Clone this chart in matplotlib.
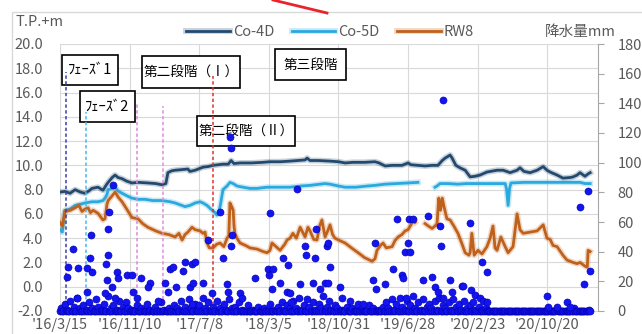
import numpy as np
import pandas as pd
import matplotlib
matplotlib.use("Agg")
import matplotlib.pyplot as plt
import matplotlib.patheffects as pe
from matplotlib.patches import Rectangle
from matplotlib.lines import Line2D

plt.rcParams["font.family"] = ["Noto Sans CJK JP", "DejaVu Sans"]

start = pd.Timestamp("2016-03-15")

# groundwater levels (T.P.+m), x = days since 2016-03-15
co4d_day = [0, 17, 35, 52, 70, 86, 100, 110, 131, 148, 160, 166, 180, 190, 200, 214, 230, 248, 270,
            303, 330, 352, 365, 372, 385, 397, 420, 441, 448, 466, 493, 510, 528, 545, 562, 580, 590,
            600, 621, 660, 700, 724, 760, 793, 820, 845, 852, 862, 890, 931, 960, 983, 1010, 1050,
            1086, 1100, 1121, 1145, 1179, 1200, 1210, 1259, 1283, 1303, 1318, 1328, 1345, 1352, 1365,
            1379, 1397, 1414, 1431, 1448, 1472, 1507, 1528, 1552, 1576, 1586, 1600, 1621, 1645, 1666,
            1679, 1690, 1714, 1734, 1759, 1769, 1783, 1793, 1810, 1821, 1828]
co4d_val = [7.8, 7.85, 7.7, 8.0, 7.8, 7.7, 7.9, 8.1, 8.2, 7.95, 8.4, 8.6, 9.0, 9.2, 9.0, 8.9, 8.7, 8.55, 8.6,
            8.55, 8.5, 8.4, 8.5, 9.4, 9.55, 9.6, 9.65, 9.7, 9.5, 9.6, 9.85, 9.9, 10.0, 10.05, 10.1, 10.1, 10.4,
            10.15, 10.2, 10.2, 10.25, 10.3, 10.3, 10.35, 10.4, 10.45, 10.6, 10.4, 10.4, 10.35, 10.3, 10.2, 10.25, 10.25,
            10.3, 10.2, 9.95, 10.0, 10.0, 10.2, 10.05, 9.95, 10.0, 10.0, 10.4, 10.6, 10.85, 10.6, 10.0,
            9.8, 9.6, 9.05, 9.1, 9.2, 9.45, 9.6, 9.6, 9.4, 9.6, 9.8, 9.5, 9.4, 9.6, 9.9,
            9.6, 9.45, 9.2, 8.95, 9.0, 9.05, 9.2, 9.4, 9.1, 9.3, 9.4]

co5d_day = [0, 8, 17, 35, 52, 70, 86, 110, 131, 148, 155, 162, 166, 180, 190, 200, 214, 230, 248, 270,
            293, 320, 352, 380, 397, 420, 431, 448, 466, 483, 493, 507, 520, 535, 541, 548, 552, 562,
            576, 586, 597, 610, 631, 655, 679, 714, 760, 793, 830, 862, 914, 931, 960, 983, 1020,
            1060, 1086, 1120, 1160, 1200, 1234, 1260, 1293, 1300, 1310, 1340, 1372, 1400, 1450, 1500,
            1535, 1540, 1545, 1550, 1555, 1600, 1700, 1760, 1793, 1810, 1828]
co5d_val = [4.7, 4.5, 6.3, 6.4, 6.7, 6.8, 6.9, 7.0, 7.0, 7.1, 7.3, 7.6, 8.0, 8.1, 8.2, 7.9, 7.7, 7.5, 7.3, 7.2,
            7.2, 7.1, 7.1, 7.0, 6.9, 6.7, 6.6, 6.7, 6.9, 7.0, 6.9, 6.7, 6.4, 6.1, 5.9, 6.2, 6.6, 8.0,
            8.3, 8.6, 8.5, 8.3, 8.2, 8.1, 8.1, 8.2, 8.2, 8.2, 8.3, 8.35, 8.5, 8.45, 8.3, 8.2, 8.2,
            8.3, 8.35, 8.45, 8.5, 8.55, 8.6, np.nan, 8.2, 8.3, 8.5, 8.5, 8.45, 8.5, 8.5, 8.5,
            8.5, 8.0, 6.7, 8.1, 8.55, 8.6, 8.6, 8.6, 8.6, 8.5, 8.5]

rw8_day = [0, 8, 17, 35, 52, 65, 76, 86, 97, 105, 114, 131, 148, 155, 162, 166, 180, 190, 200, 214,
           230, 248, 269, 285, 303, 330, 352, 375, 397, 410, 421, 431, 441, 455, 466, 483, 493, 500,
           507, 515, 528, 540, 552, 565, 576, 582, 586, 592, 597, 600, 603, 610, 621, 640, 655, 680,
           700, 714, 724, 731, 745, 759, 775, 783, 793, 803, 815, 828, 845, 855, 862, 875, 886, 895,
           903, 914, 923, 931, 940, 948, 965, 983, 1005, 1028, 1050, 1076, 1086, 1093, 1105, 1114,
           1125, 1145, 1155, 1166, 1179, 1190, 1200, 1210, 1217, 1224, 1240, 1259, 1270, 1283, 1293,
           1300, 1306, 1312, 1318, 1324, 1334, 1345, 1358, 1372, 1385, 1397, 1410, 1414, 1420, 1428,
           1441, 1455, 1472, 1483, 1493, 1500, 1507, 1520, 1535, 1545, 1562, 1576, 1586, 1597, 1621,
           1645, 1666, 1679, 1690, 1700, 1714, 1734, 1748, 1769, 1783, 1793, 1810, 1818, 1821, 1828]
rw8_val = [5.3, 5.0, 6.2, 6.3, 6.5, 6.7, 6.2, 6.4, 6.5, 6.1, 6.3, 6.05, 5.5, 5.6, 6.8, 7.1, 7.5, 7.8, 7.4, 7.0,
           6.4, 5.7, 5.6, 5.2, 4.9, 4.6, 4.4, 4.3, 4.1, 4.4, 3.85, 4.3, 4.5, 4.9, 4.7, 4.6, 4.4, 4.5,
           3.6, 3.2, 3.2, 3.5, 3.6, 3.3, 4.0, 4.2, 6.9, 6.6, 6.3, 5.0, 4.4, 4.0, 3.6, 3.4, 3.2, 3.1,
           2.9, 2.8, 3.0, 3.6, 3.3, 3.0, 3.5, 3.85, 4.0, 4.4, 4.0, 4.9, 4.1, 4.9, 4.6, 3.9, 3.85, 5.0,
           5.5, 4.1, 4.6, 5.1, 4.3, 4.0, 3.8, 3.6, 3.2, 2.8, 2.4, 2.1, 2.3, 3.0, 3.4, 3.6,
           3.2, 3.3, 3.8, 4.1, 4.3, 4.6, 4.7, 5.1, 5.5, 5.3, np.nan, 5.2, 5.0, 4.8, 5.0,
           5.2, 7.3, 6.3, 7.3, 6.6, 5.6, 5.5, 5.0, 4.4, 3.6, 2.8, 2.6, 2.8, 4.4, 2.6,
           3.0, 2.7, 3.3, 4.0, 5.0, 3.2, 3.0, 4.1, 3.3, 2.8, 3.3, 6.0, 4.7, 4.4, 4.5,
           4.6, 5.1, 4.0, 3.9, 3.4, 3.3, 2.6, 2.2, 2.0, 1.9, 2.0, 1.7, 1.6, 3.0, 2.9]

# precipitation (mm): readings every 4 days from 2016-03-15
rain_low = [0, 2, 0, 0, 5, 0, 1, 0, 0, 7, 0, 0, 3, 0, 0, 9, 0, 2, 0, 0,
            4, 0, 0, 1, 0, 6, 0, 0, 2, 0, 0, 8, 0, 3, 0, 0, 1, 0, 5, 0,
            0, 10, 0, 0, 2, 0, 4, 0, 0, 1, 0, 7, 0, 0, 3, 0, 0, 6, 0, 2,
            0, 0, 1, 0, 0, 0, 4, 0, 0, 0, 2, 0, 0, 0, 0, 5, 0, 0, 1, 0,
            0, 0, 3, 0, 0, 0, 0, 6, 0, 0, 1, 0, 0, 0, 2, 0, 0, 0, 4, 0,
            0, 2, 0, 0, 7, 0, 1, 0, 3, 0, 0, 8, 0, 2, 0, 0, 5, 0, 1, 0,
            4, 0, 0, 9, 0, 2, 0, 0, 6, 0, 1, 0, 3, 0, 0, 7, 0, 0, 2, 0,
            0, 5, 0, 1, 0, 0, 8, 0, 2, 0, 0, 3, 0, 0, 6, 0, 0, 1, 0, 0,
            0, 0, 4, 0, 0, 0, 1, 0, 0, 0, 0, 3, 0, 0, 0, 0, 2, 0, 0, 0,
            0, 5, 0, 0, 0, 1, 0, 0, 3, 0, 0, 6, 0, 1, 0, 0, 4, 0, 2, 0,
            0, 7, 0, 2, 0, 0, 9, 0, 1, 0, 4, 0, 0, 8, 0, 3, 0, 0, 6, 0,
            1, 0, 0, 5, 0, 2, 0, 10, 0, 0, 3, 0, 7, 0, 1, 0, 0, 4, 0, 2,
            0, 0, 0, 1, 0, 0, 0, 3, 0, 0, 0, 0, 2, 0, 0, 0, 0, 5, 0, 0,
            0, 1, 0, 0, 0, 0, 4, 0, 0, 0, 2, 0, 0, 0, 0, 1, 0, 0, 3, 0,
            0, 6, 0, 2, 0, 0, 8, 0, 1, 0, 5, 0, 0, 9, 0, 3, 0, 1, 0, 7,
            0, 0, 4, 0, 10, 0, 2, 0, 0, 6, 0, 1, 0, 8, 0, 0, 3, 0, 5, 0,
            2, 0, 0, 7, 0, 1, 0, 9, 0, 0, 4, 0, 2, 0, 0, 6, 0, 1, 0, 8,
            0, 3, 0, 0, 5, 0, 1, 0, 7, 0, 0, 2, 0, 4, 0, 0, 6, 0, 1, 0,
            0, 3, 0, 0, 1, 0, 0, 2, 0, 0, 0, 0, 0, 0, 0, 0, 0, 0, 0, 0,
            0, 0, 0, 0, 0, 0, 0, 0, 0, 0, 0, 0, 0, 0, 0, 0, 0, 0, 0, 0,
            0, 0, 0, 0, 0, 0, 0, 0, 0, 0, 0, 0, 0, 0, 0, 0, 0, 0, 0, 0,
            0, 0, 0, 0, 0, 0, 0, 0, 1, 0, 0, 0, 0, 0, 0, 0, 0, 0, 0, 0,
            0, 0, 0, 2, 0, 0, 0, 0, 0, 0, 0, 0, 0, 0, 0, 0, 1, 0]

# precipitation (mm): larger daily events
rain_day = [24, 28, 45, 62, 59, 93, 103, 107, 110, 94, 155, 159, 164, 166, 168, 183, 162, 179, 197, 200,
            190, 231, 248, 250, 279, 266, 310, 303, 338, 362, 372, 379, 390, 424, 431, 400, 448, 455,
            586, 588, 552, 510, 562, 593, 590, 456, 466, 459, 493, 524, 576, 579, 621, 628, 672, 717,
            734, 719, 724, 731, 759, 769, 786, 783, 817, 793, 828, 845, 847, 879, 881, 872, 897, 914,
            921, 931, 795, 923, 924, 966, 972, 1000, 1086, 1079, 1088, 1045, 1121, 1148, 1162, 1179,
            1181, 1190, 1207, 1200, 1205, 1217, 1192, 1252, 1269, 1283, 1310, 1314, 1293, 1303, 1345,
            1352, 1386, 1321, 1322, 1414, 1390, 1416, 1431, 1455, 1472, 1448, 1459, 1474, 1679, 1683,
            1714, 1748, 1759, 1793, 1821, 1807, 1828]
rain_mm = [23, 30, 42, 29, 9, 29, 36, 51, 26, 13, 12, 32, 38, 55, 67, 85, 21, 16, 26, 22,
           9, 24, 24, 13, 22, 9, 19, 16, 7, 19, 13, 28, 30, 27, 33, 16, 16, 5,
           117, 110, 67, 48, 36, 51, 44, 32, 33, 19, 19, 12, 18, 13, 12, 9, 22, 28,
           28, 24, 66, 15, 19, 36, 31, 13, 82, 12, 18, 44, 38, 36, 55, 19, 15, 19,
           44, 30, 6, 46, 19, 16, 9, 7, 46, 21, 15, 5, 18, 28, 62, 24,
           22, 40, 40, 46, 62, 62, 9, 21, 64, 23, 57, 44, 16, 13, 21,
           13, 17, 142, 9, 59, 17, 14, 11, 33, 26, 9, 7, 6, 10, 3,
           3, 6, 3, 70, 81, 18, 27]

tick_days = [0, 240, 480, 720, 960, 1200, 1440, 1680]
tick_labels = ["'16/3/15", "'16/11/10", "'17/7/8", "'18/3/5", "'18/10/31", "'19/6/28", "'20/2/23", "'20/10/20"]

phase_names = ["ﾌｪｰｽﾞ1", "ﾌｪｰｽﾞ2", "第二段階（Ⅰ）", "第二段階（Ⅱ）", "第三段階"]
marker_day = [21, 90, 266, 355, 528]
marker_top = [17.7, 14.4, 15.2, 14.9, 17.4]
marker_color = ["#3b3fa8", "#4ab8e8", "#d98ad9", "#e08be0", "#e0302a"]


def to_dates(days):
    return start + pd.to_timedelta(np.asarray(days, dtype=float), unit="D")


C4, C5, CR = "#234a6e", "#2aa9df", "#c0611b"
GRID = "#d9d9d9"
TXT = "#595959"
DOT = "#1414f0"

fig = plt.figure(figsize=(6.42, 3.34), dpi=100)
ax = fig.add_axes([60 / 642, 1 - 311 / 334, 538 / 642, 267 / 334])

glow = lambda c: [pe.Stroke(linewidth=4.2, foreground=c, alpha=0.25), pe.Normal()]
l1, = ax.plot(to_dates(co4d_day), co4d_val, color=C4, lw=2.0, label="Co-4D", path_effects=glow(C4), zorder=3)
l2, = ax.plot(to_dates(co5d_day), co5d_val, color=C5, lw=2.0, label="Co-5D", path_effects=glow(C5), zorder=3)
l3, = ax.plot(to_dates(rw8_day), rw8_val, color=CR, lw=2.0, label="RW8", path_effects=glow(CR), zorder=3)

ax.set_ylim(-2, 20)
ax.set_yticks(np.arange(-2, 20.1, 2))
ax.set_yticklabels([f"{v:.1f}" for v in np.arange(-2, 20.1, 2)])
ax.set_xlim(start, start + pd.Timedelta(days=1855))
ax.set_xticks(to_dates(tick_days))
ax.set_xticklabels(tick_labels)
ax.grid(True, color=GRID, lw=0.8)
ax.set_axisbelow(True)
ax.tick_params(axis="both", length=0, colors=TXT)
ax.tick_params(axis="y", pad=12, labelsize=10.5)
ax.tick_params(axis="x", pad=5, labelsize=10.5)
for s in ["top", "right", "left"]:
    ax.spines[s].set_visible(False)
ax.spines["bottom"].set_color(GRID)

# phase boxes (axes fraction)
boxes = [(0.0037, 0.8464, 0.1041, 0.1124), (0.0372, 0.7079, 0.1022, 0.1161),
         (0.1524, 0.8352, 0.1822, 0.1199), (0.2546, 0.6180, 0.1822, 0.1124),
         (0.3996, 0.8652, 0.1320, 0.1161)]
sizes = [10.5, 10.5, 9.8, 9.8, 9.8]
for (bx, by, bw, bh), name, fs in zip(boxes, phase_names, sizes):
    ax.add_patch(Rectangle((bx, by), bw, bh, transform=ax.transAxes, facecolor="white",
                           edgecolor="black", lw=1.2, zorder=4))
    ax.text(bx + bw / 2, by + bh / 2, name, transform=ax.transAxes, ha="center", va="center",
            fontsize=fs, color="black", zorder=5)

for d, top, c in zip(marker_day, marker_top, marker_color):
    ax.vlines(to_dates([d]), -2, top, colors=c, linestyles=(0, (2.2, 1.6)), lw=1.1, zorder=6)

ax2 = ax.twinx()
ax2.set_ylim(0, 180)
ax2.set_yticks(range(0, 181, 20))
ax2.scatter(to_dates(np.arange(len(rain_low)) * 4), rain_low, s=26, color=DOT,
            edgecolors="#0000b0", linewidths=0.4, clip_on=False, zorder=5)
ax2.scatter(to_dates(rain_day), rain_mm, s=26, color=DOT,
            edgecolors="#0000b0", linewidths=0.4, clip_on=False, zorder=5)
ax2.tick_params(axis="y", length=4, color="#a6a6a6", labelcolor=TXT, labelsize=10.5, pad=10)
for s in ["top", "left", "bottom"]:
    ax2.spines[s].set_visible(False)
ax2.spines["right"].set_color("#a6a6a6")

fig.legend(handles=[l1, l2, l3], loc="center", bbox_to_anchor=(330 / 642, 1 - 32 / 334), ncol=3,
           frameon=False, fontsize=10.5, handlelength=3.0, handletextpad=0.2, columnspacing=1.2,
           labelcolor=TXT)
fig.text(15 / 642, 1 - 22 / 334, "T.P.+m", ha="left", va="center", fontsize=10.5, color=TXT)
fig.text(580 / 642, 1 - 32 / 334, "降水量mm", ha="center", va="center", fontsize=10.5, color=TXT)

fig.add_artist(Rectangle((12 / 642, -0.1), 1.2, 1.1 - 12 / 334, transform=fig.transFigure,
                         fill=False, edgecolor=GRID, lw=1.0))
fig.add_artist(Line2D([273 / 642, 327 / 642], [1.0, 1 - 13 / 334], color="#e8242b", lw=2.0))

fig.savefig("out.png", dpi=100)
